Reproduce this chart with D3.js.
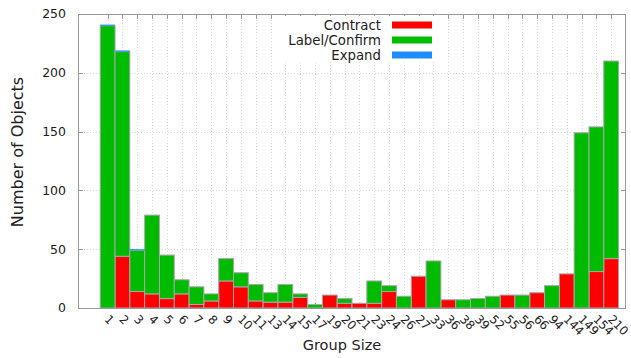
<!DOCTYPE html>
<html>
<head>
<meta charset="utf-8">
<script src="https://cdn.jsdelivr.net/npm/d3@7"></script>
<style>
  html, body { margin: 0; padding: 0; background: #fff; }
  svg { display: block; font-family: "DejaVu Sans", Verdana, sans-serif; }
</style>
</head>
<body>
<svg id="chart" width="631" height="358"></svg>
<script>
// Group sizes along the x axis
const categories = ["1","2","3","4","5","6","7","8","9","10","11","13","14","15","17","19","20","21",
  "23","24","26","27","33","36","38","39","52","55","56","66","94","144","149","154","210"];

// Object counts per group size, one array per action
const contract = [0,44,14,12,8,12,3,6,23,18,6,5,5,9,0,11,4,4,4,14,0,27,0,7,0,0,0,11,0,13,0,29,0,31,42];
const labelConfirm = [240,174,35,67,37,12,15,6,19,12,14,8,15,3,3,0,4,0,19,5,10,0,40,0,7,8,10,0,11,0,19,0,149,123,168];
const expand = [1,1,1,0,0,0,0,0,0,0,0,0,0,0,0,0,0,0,0,0,0,0,0,0,0,0,0,0,0,0,0,0,0,0,0];

const yTicks = [0, 50, 100, 150, 200, 250];

const seriesNames = ["Contract", "Label/Confirm", "Expand"];
const seriesColors = ["#ff0000", "#00bb00", "#1e8cff"];

const rows = categories.map((c, i) => ({
  cat: c, idx: i,
  "Contract": contract[i], "Label/Confirm": labelConfirm[i], "Expand": expand[i]
}));

const svg = d3.select("#chart");
const plotLeft = 78, plotRight = 626, plotTop = 14, plotBottom = 308;

const x = d3.scaleLinear().domain([-2, categories.length]).range([plotLeft, plotRight]);
const y = d3.scaleLinear().domain([0, 250]).range([plotBottom, plotTop]);
const unit = x(1) - x(0);

// grid
const grid = svg.append("g").attr("stroke", "#d8d8d8").attr("stroke-dasharray", "1,2").attr("stroke-width", 1);
categories.forEach((c, i) => {
  grid.append("line").attr("x1", Math.round(x(i)) + 0.5).attr("x2", Math.round(x(i)) + 0.5)
    .attr("y1", plotTop).attr("y2", plotBottom);
});
yTicks.slice(1, -1).forEach(v => {
  grid.append("line").attr("x1", plotLeft).attr("x2", plotRight)
    .attr("y1", Math.round(y(v)) + 0.5).attr("y2", Math.round(y(v)) + 0.5);
});

// ticks on the frame
const tickG = svg.append("g").attr("stroke", "#999").attr("stroke-width", 1);
categories.forEach((c, i) => {
  const xp = Math.round(x(i)) + 0.5;
  tickG.append("line").attr("x1", xp).attr("x2", xp).attr("y1", plotTop).attr("y2", plotTop + 5);
  tickG.append("line").attr("x1", xp).attr("x2", xp).attr("y1", plotBottom).attr("y2", plotBottom - 5);
});
yTicks.forEach(v => {
  const yp = Math.round(y(v)) + 0.5;
  tickG.append("line").attr("x1", plotLeft).attr("x2", plotLeft + 5).attr("y1", yp).attr("y2", yp);
  tickG.append("line").attr("x1", plotRight).attr("x2", plotRight - 5).attr("y1", yp).attr("y2", yp);
});

// legend (opaque key)
const legend = svg.append("g");
legend.append("rect").attr("x", 282).attr("y", 16).attr("width", 158).attr("height", 46).attr("fill", "#fff");

// stacked bars; the thin Expand caps carry no outline so they stay visible
const stack = d3.stack().keys(seriesNames)(rows);
svg.append("g").selectAll("g").data(stack).join("g")
  .attr("fill", (d, i) => seriesColors[i])
  .attr("stroke", d => d.key === "Expand" ? "none" : "#a8a8a8")
  .selectAll("rect").data(d => d.filter(p => p[1] - p[0] > 0)).join("rect")
  .attr("x", d => x(d.data.idx) - unit / 2)
  .attr("width", unit)
  .attr("y", d => y(d[1]))
  .attr("height", d => y(d[0]) - y(d[1]))
  .attr("stroke-width", 1);

// frame
svg.append("rect").attr("x", plotLeft + 0.5).attr("y", plotTop + 0.5)
  .attr("width", plotRight - plotLeft - 1).attr("height", plotBottom - plotTop)
  .attr("fill", "none").attr("stroke", "#999");

// y tick labels
svg.append("g").selectAll("text").data(yTicks).join("text")
  .attr("x", 66).attr("y", d => y(d)).attr("dy", "0.35em")
  .attr("text-anchor", "end").attr("font-size", 12.5).attr("fill", "#222")
  .text(d => d);

// x tick labels, slanted
svg.append("g").selectAll("text").data(categories).join("text")
  .attr("transform", (d, i) => `translate(${x(i) - 1},317) rotate(45)`)
  .attr("dy", "0.35em").attr("text-anchor", "start")
  .attr("font-size", 12).attr("fill", "#222")
  .text(d => d);

// axis titles
svg.append("text").attr("x", 342).attr("y", 350)
  .attr("text-anchor", "middle").attr("font-size", 14.5).attr("fill", "#222").text("Group Size");
svg.append("text").attr("transform", "translate(23,152) rotate(-90)")
  .attr("text-anchor", "middle").attr("font-size", 16).attr("fill", "#222").text("Number of Objects");

// legend entries
seriesNames.forEach((name, i) => {
  const cy = 25 + i * 15;
  legend.append("text").attr("x", 381).attr("y", cy).attr("dy", "0.35em")
    .attr("text-anchor", "end").attr("font-size", 13.3).attr("fill", "#222").text(name);
  legend.append("rect").attr("x", 392).attr("y", cy - 3.5).attr("width", 40).attr("height", 7)
    .attr("fill", seriesColors[i]);
});
</script>
</body>
</html>
